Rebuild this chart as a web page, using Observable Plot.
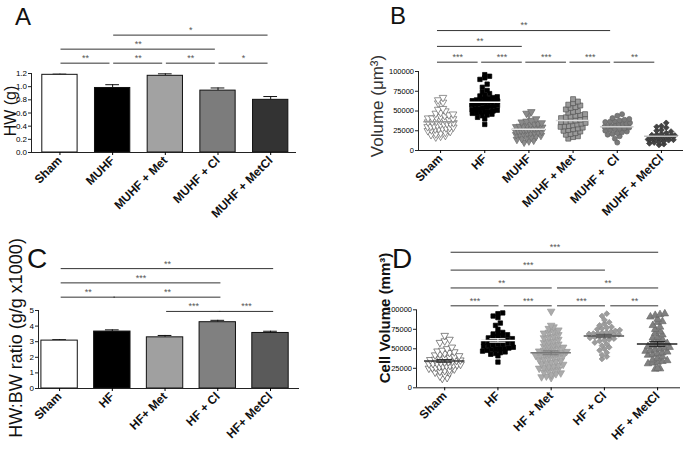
<!DOCTYPE html>
<html><head><meta charset="utf-8">
<script src="https://cdn.jsdelivr.net/npm/d3@7"></script>
<script src="https://cdn.jsdelivr.net/npm/@observablehq/plot@0.6"></script>
<style>
html,body{margin:0;padding:0;background:#fff;}
#wrap{position:relative;width:689px;height:452px;overflow:hidden;background:#fff;}
#wrap > svg{position:absolute;margin:0;overflow:visible;}
</style></head><body><div id="wrap"></div>
<script>
// ---------------- DATA ----------------
// Panel A: heart weight
const groupsA = ["Sham", "MUHF", "MUHF + Met", "MUHF + Cl", "MUHF + MetCl"];
const hwMean = [1.18, 0.98, 1.165, 0.94, 0.80];
const hwSem = [0.01, 0.05, 0.03, 0.04, 0.05];
const colorsA = ["#ffffff", "#000000", "#a2a2a2", "#7c7c7c", "#333333"];
const ticksA = [0, 0.2, 0.4, 0.6, 0.8, 1.0, 1.2];
const sigA = [
  {from: "Sham", to: "MUHF", row: 0, stars: "**"},
  {from: "MUHF", to: "MUHF + Met", row: 0, stars: "**"},
  {from: "MUHF + Met", to: "MUHF + Cl", row: 0, stars: "**"},
  {from: "MUHF + Cl", to: "MUHF + MetCl", row: 0, stars: "*"},
  {from: "Sham", to: "MUHF + Cl", row: 1, stars: "**"},
  {from: "MUHF", to: "MUHF + MetCl", row: 2, stars: "*"}
];

// Panel B: cell volume (µm3)
const groupsB = ["Sham", "HF", "MUHF", "MUHF + Met", "MUHF +  Cl", "MUHF + MetCl"];
const volSham = [67000, 64000, 61000, 60000, 53000, 52000, 50000, 48000, 47000, 46000, 45000, 44000, 43000, 42000, 41000, 41000, 40000, 39000, 38500, 38000, 37000, 36000, 36000, 35000, 34500, 34000, 33500, 33000, 32000, 31000, 30500, 30000, 29500, 29000, 28500, 28000, 27500, 27000, 26000, 25000, 24000, 23000, 22000, 21000, 20000, 19000, 18000, 17000];
const volHF = [96000, 94000, 92000, 90000, 84000, 80000, 76000, 74000, 72000, 70000, 69000, 68000, 67000, 66000, 65000, 64500, 64000, 63000, 62500, 62000, 61500, 61000, 60500, 60000, 59000, 58500, 58000, 57000, 56000, 55500, 55000, 54000, 53000, 52500, 52000, 51000, 50000, 49500, 49000, 48000, 47500, 47000, 46000, 45000, 44000, 42000, 40000, 33000];
const volMUHF = [49000, 47000, 46000, 40000, 38000, 37000, 36000, 35000, 34000, 33500, 33000, 32000, 31000, 30500, 30000, 29500, 29000, 28500, 28000, 27500, 27000, 26500, 26000, 25500, 25000, 24500, 24000, 23500, 23000, 22500, 22000, 21500, 21000, 20000, 19000, 18000, 17000, 16000, 15000, 14000, 13000, 12000, 10500];
const volMet = [65000, 62000, 60000, 58000, 57000, 55000, 54000, 52000, 50000, 49000, 48000, 46000, 45000, 44000, 43000, 42000, 41000, 40000, 39000, 38000, 37000, 36500, 36000, 35000, 34000, 33000, 32000, 31000, 30500, 30000, 29000, 28000, 27000, 26000, 25000, 24000, 22000, 21000, 20000, 18000, 17000, 15000];
const volCl = [46000, 44000, 41000, 40000, 39000, 38000, 37000, 36500, 36000, 35000, 34000, 33500, 33000, 32000, 31000, 30500, 30000, 29000, 28000, 27500, 27000, 26000, 25000, 24000, 23000, 22000, 21000, 20000, 18000, 15000, 10000];
const volMetCl = [35000, 31000, 30000, 29000, 26000, 25000, 24000, 22000, 21000, 20000, 19500, 19000, 18500, 18000, 17500, 17000, 16500, 16000, 16000, 15500, 15000, 14500, 14000, 14000, 13500, 13000, 12000, 11000, 10000, 9000, 8000, 7000];
const valuesB = [volSham, volHF, volMUHF, volMet, volCl, volMetCl];
const ticksB = [0, 25000, 50000, 75000, 100000];
const sigB = [
  {from: "Sham", to: "HF", row: 0, stars: "***"},
  {from: "HF", to: "MUHF", row: 0, stars: "***"},
  {from: "MUHF", to: "MUHF + Met", row: 0, stars: "***"},
  {from: "MUHF + Met", to: "MUHF +  Cl", row: 0, stars: "***"},
  {from: "MUHF +  Cl", to: "MUHF + MetCl", row: 0, stars: "**"},
  {from: "Sham", to: "MUHF", row: 1, stars: "**"},
  {from: "Sham", to: "MUHF +  Cl", row: 2, stars: "**"}
];

// Panel C: HW:BW ratio
const groupsC = ["Sham", "HF", "HF+ Met", "HF + Cl", "HF+ MetCl"];
const ratioMean = [3.07, 3.65, 3.28, 4.25, 3.56];
const ratioSem = [0.06, 0.11, 0.12, 0.12, 0.11];
const colorsC = ["#ffffff", "#000000", "#a0a0a0", "#808080", "#5a5a5a"];
const ticksC = [0, 1, 2, 3, 4, 5];
const sigC = [
  {from: "HF+ Met", to: "HF + Cl", row: 0, stars: "***"},
  {from: "HF + Cl", to: "HF+ MetCl", row: 0, stars: "***"},
  {from: "Sham", to: "HF", row: 1, stars: "**"},
  {from: "HF", to: "HF + Cl", row: 1, stars: "**"},
  {from: "Sham", to: "HF + Cl", row: 2, stars: "***"},
  {from: "Sham", to: "HF+ MetCl", row: 3, stars: "**"}
];

// Panel D: cell volume
const groupsD = ["Sham", "HF", "HF + Met", "HF + Cl", "HF + MetCl"];
const cvSham = [67000, 62000, 60000, 58000, 52000, 50000, 48000, 47000, 46000, 45000, 44000, 43000, 42000, 41000, 40000, 39000, 38000, 37000, 36500, 36000, 35500, 35000, 34000, 33500, 33000, 32000, 31500, 31000, 30500, 30000, 29500, 29000, 28500, 28000, 27500, 27000, 26000, 25500, 25000, 24000, 23000, 22000, 21000, 20000, 19000, 17000, 15000, 13000, 12000];
const cvHF = [96000, 95000, 92000, 90000, 83000, 80000, 75000, 71000, 70000, 69000, 68000, 67000, 66000, 65000, 64000, 63000, 62000, 61000, 60500, 60000, 59000, 58000, 57500, 57000, 56000, 55500, 55000, 54000, 53000, 52000, 51000, 50500, 50000, 49500, 49000, 48000, 47000, 46000, 45000, 44000, 43000, 41000, 33000];
const cvMet = [98000, 80000, 78000, 76000, 74000, 72000, 71000, 70000, 68000, 66000, 65000, 64000, 62000, 60000, 59000, 58000, 56000, 55000, 54000, 53000, 52000, 51000, 50000, 49000, 48000, 47000, 46500, 46000, 45000, 44000, 43500, 43000, 42000, 41500, 41000, 40000, 39000, 38000, 37000, 36000, 35000, 34000, 33000, 32000, 31000, 30000, 29000, 28000, 27000, 26000, 25000, 24000, 23000, 22000, 20000, 19000, 18000, 17000, 15000, 14000, 13000];
const cvCl = [95000, 92000, 87000, 84000, 82000, 80000, 78000, 77000, 76000, 75000, 74000, 73000, 72000, 71000, 70500, 70000, 69500, 69000, 68500, 68000, 67000, 66500, 66000, 65000, 64000, 63000, 62000, 61000, 60000, 58000, 56000, 54000, 52000, 50000, 48000, 45000, 42000, 40000, 37000];
const cvMetCl = [95000, 94000, 93000, 91000, 88000, 85000, 84000, 80000, 78000, 75000, 72000, 70000, 68000, 65000, 64000, 62000, 60000, 58000, 57000, 56000, 55000, 54000, 53000, 52000, 51000, 50000, 49000, 48000, 47000, 46000, 45000, 44000, 43000, 42000, 40000, 38000, 36000, 35000, 34000, 33000, 32000, 31000, 25000, 24500, 24000];
const valuesD = [cvSham, cvHF, cvMet, cvCl, cvMetCl];
const ticksD = [0, 25000, 50000, 75000, 100000];
const sigD = [
  {from: "Sham", to: "HF", row: 0, stars: "***"},
  {from: "HF", to: "HF + Met", row: 0, stars: "***"},
  {from: "HF + Met", to: "HF + Cl", row: 0, stars: "***"},
  {from: "HF + Cl", to: "HF + MetCl", row: 0, stars: "**"},
  {from: "Sham", to: "HF + Met", row: 1, stars: "**"},
  {from: "HF + Met", to: "HF + MetCl", row: 1, stars: "**"},
  {from: "Sham", to: "HF + Cl", row: 2, stars: "***"},
  {from: "Sham", to: "HF + MetCl", row: 3, stars: "***"}
];

// ---------------- HELPERS ----------------
const FONT = "'Liberation Sans', Arial, sans-serif";
const downTriangle = {
  draw(ctx, size) {
    const y = -Math.sqrt(size / (Math.sqrt(3) * 3));
    ctx.moveTo(0, -y * 2);
    ctx.lineTo(-Math.sqrt(3) * y, y);
    ctx.lineTo(Math.sqrt(3) * y, y);
    ctx.closePath();
  }
};

// deterministic column-scatter layout (points sharing a row are spread sideways)
function swarm(values, gi, pxPerUnit, stepPx) {
  const rowPx = 4.3, colPx = 4.8;
  const sorted = values.slice().sort((a, b) => a - b);
  const bins = d3.groups(sorted, v => Math.round(v * pxPerUnit / rowPx));
  const out = [];
  for (const [, vs] of bins) {
    const n = vs.length;
    const sp = Math.min(colPx, 0.66 * stepPx / n);
    vs.forEach((v, k) => out.push({x: gi + ((k - (n - 1) / 2) * sp) / stepPx, y: v}));
  }
  return out;
}

function sigMarks(sig, groups, base, step, off1, off2, starSize) {
  const d = sig.map(s => ({
    x1: groups.indexOf(s.from) + off1,
    x2: groups.indexOf(s.to) + off2,
    y: base + s.row * step,
    stars: s.stars
  }));
  return [
    Plot.ruleY(d, {x1: "x1", x2: "x2", y: "y", stroke: "#333", strokeWidth: 1}),
    Plot.text(d, {x: v => (v.x1 + v.x2) / 2, y: "y", text: "stars", dy: -5, fontSize: starSize, fill: "#555"})
  ];
}

function axes(cfg) {
  const n = cfg.groups.length;
  return [
    Plot.ruleX([cfg.xDomain[0]], {y1: cfg.yDomain[0], y2: cfg.yDomain[1], stroke: "#222", strokeWidth: 1}),
    Plot.ruleY([0], {x1: cfg.xDomain[0], x2: cfg.xDomain[1], stroke: "#222", strokeWidth: 1}),
    Plot.axisY({ticks: cfg.yTicks, tickFormat: cfg.yFormat, tickSize: 3, tickPadding: 1.5, fontSize: cfg.yTickSize, label: null, stroke: "#222"}),
    Plot.axisX({ticks: d3.range(n), tickFormat: i => cfg.groups[i], tickRotate: -45, tickSize: 3, tickPadding: 3, fontSize: cfg.xFont, fontWeight: "bold", label: null, fill: "#111"})
  ];
}

function place(svg, left, top) {
  svg.style.left = left + "px";
  svg.style.top = top + "px";
  document.getElementById("wrap").appendChild(svg);
}

function barPanel(cfg) {
  const data = cfg.groups.map((g, i) => ({i, value: cfg.means[i], err: cfg.sems[i], color: cfg.colors[i]}));
  const hw = cfg.halfWidth;
  return Plot.plot({
    width: cfg.width, height: cfg.height,
    marginLeft: cfg.mL, marginRight: cfg.mR, marginTop: cfg.mT, marginBottom: cfg.mB,
    x: {type: "linear", domain: cfg.xDomain},
    y: {domain: cfg.yDomain},
    color: {type: "identity"},
    style: {fontFamily: FONT, background: "transparent", overflow: "visible"},
    marks: [
      Plot.ruleX(data, {x: "i", y1: "value", y2: d => d.value + d.err, stroke: "#111", strokeWidth: 1}),
      Plot.ruleY(data, {x1: d => d.i - 0.13, x2: d => d.i + 0.13, y: d => d.value + d.err, stroke: "#111", strokeWidth: 1}),
      Plot.rectY(data, {x1: d => d.i - hw, x2: d => d.i + hw, y1: 0, y2: "value", fill: "color", stroke: "#111", strokeWidth: 1}),
      ...axes(cfg),
      ...sigMarks(cfg.sig, cfg.groups, cfg.sigBase, cfg.sigStep, cfg.off1, cfg.off2, 9)
    ]
  });
}

function scatterPanel(cfg) {
  const stepPx = (cfg.width - cfg.mL - cfg.mR) / (cfg.xDomain[1] - cfg.xDomain[0]);
  const pxPerUnit = (cfg.height - cfg.mT - cfg.mB) / (cfg.yDomain[1] - cfg.yDomain[0]);
  const dotMarks = cfg.values.map((vals, gi) => {
    const st = cfg.styles[gi];
    return Plot.dot(swarm(vals, gi, pxPerUnit, stepPx), {
      x: "x", y: "y", r: st.r || 2.6, symbol: st.symbol,
      fill: st.fill, stroke: st.stroke, strokeWidth: st.sw || 0.7
    });
  });
  const stats = cfg.values.map((vals, gi) => ({
    i: gi, mean: d3.mean(vals), sem: d3.deviation(vals) / Math.sqrt(vals.length),
    color: cfg.styles[gi].meanColor
  }));
  const marks = [
    ...dotMarks,
    Plot.ruleY(stats, {x1: d => d.i - 0.38, x2: d => d.i + 0.38, y: "mean", stroke: "color", strokeWidth: 1.5})
  ];
  if (cfg.showSem) {
    marks.push(
      Plot.ruleX(stats, {x: "i", y1: d => d.mean - d.sem, y2: d => d.mean + d.sem, stroke: "color", strokeWidth: 1}),
      Plot.ruleY(stats, {x1: d => d.i - 0.15, x2: d => d.i + 0.15, y: d => d.mean + d.sem, stroke: "color", strokeWidth: 1}),
      Plot.ruleY(stats, {x1: d => d.i - 0.15, x2: d => d.i + 0.15, y: d => d.mean - d.sem, stroke: "color", strokeWidth: 1})
    );
  }
  return Plot.plot({
    width: cfg.width, height: cfg.height,
    marginLeft: cfg.mL, marginRight: cfg.mR, marginTop: cfg.mT, marginBottom: cfg.mB,
    x: {type: "linear", domain: cfg.xDomain},
    y: {domain: cfg.yDomain},
    color: {type: "identity"},
    style: {fontFamily: FONT, background: "transparent", overflow: "visible"},
    marks: [
      ...marks,
      ...axes(cfg),
      ...sigMarks(cfg.sig, cfg.groups, cfg.sigBase, cfg.sigStep, cfg.off1, cfg.off2, 9)
    ]
  });
}

// ---------------- PANELS ----------------
place(barPanel({
  groups: groupsA, means: hwMean, sems: hwSem, colors: colorsA,
  width: 340, height: 225, mL: 31, mR: 44, mT: 73, mB: 73,
  xDomain: [-0.54, 4.49], yDomain: [0, 1.2], yTicks: ticksA, yFormat: d3.format(".1f"), yTickSize: 8,
  halfWidth: 0.335, xFont: 12,
  sig: sigA, sigBase: 1.357, sigStep: 0.213, off1: 0.02, off2: -0.05
}), 0, 0);

place(scatterPanel({
  groups: groupsB, values: valuesB,
  styles: [
    {symbol: downTriangle, fill: "#ffffff", stroke: "#666", r: 2.8, meanColor: "#999"},
    {symbol: "square", fill: "#000", stroke: "#000", r: 2.5, meanColor: "#ffffff"},
    {symbol: downTriangle, fill: "#8a8a8a", stroke: "#6a6a6a", r: 2.8, meanColor: "#e8e8e8"},
    {symbol: "square", fill: "#9a9a9a", stroke: "#555", r: 2.8, meanColor: "#dddddd"},
    {symbol: "circle", fill: "#7a7a7a", stroke: "#666", r: 2.5, meanColor: "#cccccc"},
    {symbol: "diamond2", fill: "#444", stroke: "#333", r: 2.6, meanColor: "#bbbbbb"}
  ],
  width: 349, height: 225, mL: 78, mR: 6, mT: 71, mB: 75,
  xDomain: [-0.5, 5.5], yDomain: [0, 100000], yTicks: ticksB, yFormat: d3.format("d"), yTickSize: 7.5,
  xFont: 12,
  sig: sigB, sigBase: 111800, sigStep: 20000, off1: -0.07, off2: -0.15
}), 340, 0);

place(barPanel({
  groups: groupsC, means: ratioMean, sems: ratioSem, colors: colorsC,
  width: 340, height: 227, mL: 38, mR: 41, mT: 85, mB: 64,
  xDomain: [-0.4, 4.55], yDomain: [0, 5], yTicks: ticksC, yFormat: d3.format("d"), yTickSize: 8,
  halfWidth: 0.345, xFont: 12,
  sig: sigC, sigBase: 4.94, sigStep: 0.915, off1: 0.03, off2: 0.06
}), 0, 225);

place(scatterPanel({
  groups: groupsD, values: valuesD,
  styles: [
    {symbol: downTriangle, fill: "#ffffff", stroke: "#555", r: 2.8, meanColor: "#333"},
    {symbol: "square", fill: "#000", stroke: "#000", r: 2.5, meanColor: "#ffffff"},
    {symbol: downTriangle, fill: "#ababab", stroke: "#9a9a9a", r: 2.8, meanColor: "#777"},
    {symbol: "diamond2", fill: "#9c9c9c", stroke: "#8a8a8a", r: 2.6, meanColor: "#555"},
    {symbol: "triangle", fill: "#808080", stroke: "#6a6a6a", r: 2.8, meanColor: "#222"}
  ],
  width: 349, height: 227, mL: 76, mR: 9, mT: 84.3, mB: 64.7,
  xDomain: [-0.53, 4.43], yDomain: [0, 100000], yTicks: ticksD, yFormat: d3.format("d"), yTickSize: 7.5,
  xFont: 12, showSem: true,
  sig: sigD, sigBase: 105100, sigStep: 22900, off1: 0.12, off2: 0.02
}), 340, 225);

// panel letters and y-axis titles (overlay text)
const letters = [
  {t: "A", x: 15, y: 25, s: 24},
  {t: "B", x: 390, y: 24, s: 24},
  {t: "C", x: 27, y: 268, s: 28},
  {t: "D", x: 392, y: 268, s: 28}
];
const yTitles = [
  {t: "HW (g)", cx: 10, cy: 111, s: 16, w: "normal", fill: "#111"},
  {t: "Volume (μm³)", cx: 377, cy: 106, s: 17, w: "normal", fill: "#333"},
  {t: "HW:BW ratio (g/g x1000)", cx: 16, cy: 338, s: 18, w: "normal", fill: "#111"},
  {t: "Cell Volume (mm³)", cx: 384, cy: 318, s: 15, w: "bold", fill: "#111"}
];
const ov = d3.create("svg").attr("width", 689).attr("height", 452).style("left", "0px").style("top", "0px").style("pointer-events", "none");
ov.selectAll("text.letter").data(letters).join("text").attr("class", "letter")
  .attr("x", d => d.x).attr("y", d => d.y).attr("font-size", d => d.s)
  .attr("font-family", FONT).attr("fill", "#111").text(d => d.t);
ov.selectAll("text.ytitle").data(yTitles).join("text").attr("class", "ytitle")
  .attr("transform", d => `translate(${d.cx},${d.cy}) rotate(-90)`)
  .attr("text-anchor", "middle").attr("dominant-baseline", "central")
  .attr("font-size", d => d.s).attr("font-weight", d => d.w).attr("fill", d => d.fill)
  .attr("font-family", FONT).text(d => d.t);
document.getElementById("wrap").appendChild(ov.node());
</script></body></html>
